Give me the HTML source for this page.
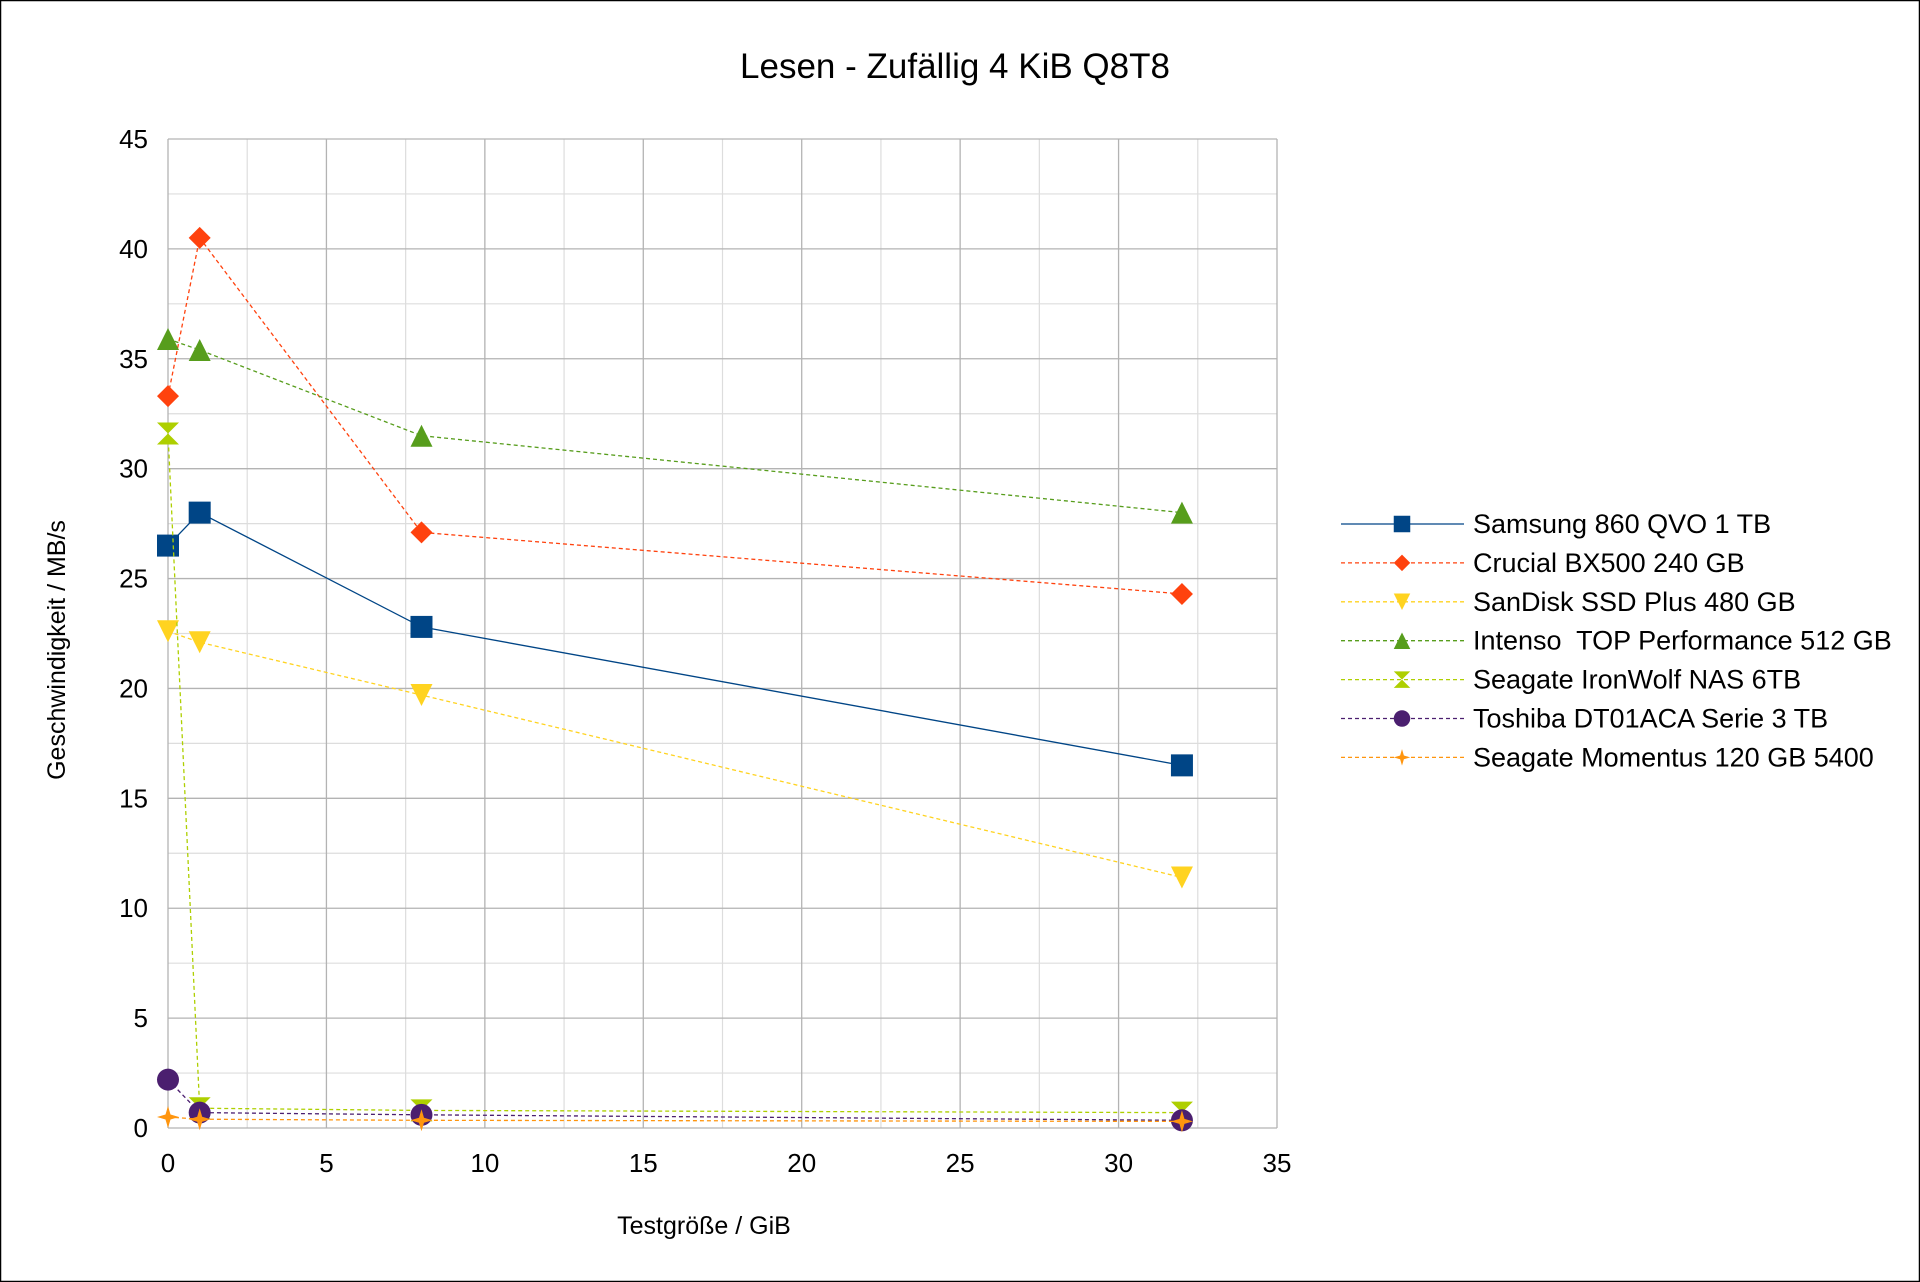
<!DOCTYPE html>
<html><head><meta charset="utf-8"><style>
html,body{margin:0;padding:0;background:#fff}
svg{display:block;font-family:"Liberation Sans",sans-serif}
</style></head><body>
<svg id="chart" width="1920" height="1282" viewBox="0 0 1920 1282" xmlns="http://www.w3.org/2000/svg">
<rect x="0.5" y="0.5" width="1919" height="1281" fill="#fff" stroke="#000" stroke-width="1.5"/>
<text x="955" y="78" font-size="35" text-anchor="middle" fill="#000">Lesen - Zufällig 4 KiB Q8T8</text>
<g id="grid"></g>
<g id="axes"></g>
<g id="series"></g>
<g id="legend"></g>
<text transform="translate(65,650) rotate(-90)" font-size="25" text-anchor="middle" fill="#000">Geschwindigkeit / MB/s</text>
<text x="704" y="1234" font-size="25" text-anchor="middle" fill="#000">Testgröße / GiB</text>
</svg>
<script>
const xValues = [0, 1, 8, 32];
const seriesNames = ["Samsung 860 QVO 1 TB","Crucial BX500 240 GB","SanDisk SSD Plus 480 GB","Intenso  TOP Performance 512 GB","Seagate IronWolf NAS 6TB","Toshiba DT01ACA Serie 3 TB","Seagate Momentus 120 GB 5400"];
const samsung = [26.5, 28, 22.8, 16.5];
const crucial = [33.3, 40.5, 27.1, 24.3];
const sandisk = [22.6, 22.1, 19.7, 11.4];
const intenso = [35.9, 35.4, 31.5, 28];
const ironwolf = [31.6, 0.9, 0.8, 0.7];
const toshiba = [2.2, 0.7, 0.6, 0.35];
const momentus = [0.5, 0.4, 0.35, 0.3];
const xTicks = [0,5,10,15,20,25,30,35];
const yTicks = [0,5,10,15,20,25,30,35,40,45];

const NS="http://www.w3.org/2000/svg";
const L=168,R=1277,T=139,B=1128;
const xS=v=>L+(v/35)*(R-L);
const yS=v=>B-(v/45)*(B-T);
function mk(tag,attrs,parent){const e=document.createElementNS(NS,tag);for(const k in attrs)e.setAttribute(k,attrs[k]);parent.appendChild(e);return e;}
const grid=document.getElementById('grid'),axes=document.getElementById('axes'),ser=document.getElementById('series'),leg=document.getElementById('legend');
for(let v=2.5;v<45;v+=5){const l=mk('line',{x1:L,x2:R,y1:yS(v),y2:yS(v),stroke:'#dddddd','stroke-width':1.2},grid);

}
for(let v=2.5;v<35;v+=5){const l=mk('line',{x1:xS(v),x2:xS(v),y1:T,y2:B,stroke:'#dddddd','stroke-width':1.2},grid);

}
yTicks.forEach(v=>{const l=mk('line',{x1:L,x2:R,y1:yS(v),y2:yS(v),stroke:'#b3b3b3','stroke-width':1.3},grid);


const t=mk('text',{x:L-20,y:yS(v)+9,'font-size':26,'text-anchor':'end',fill:'#000'},axes);t.textContent=v;

});
xTicks.forEach(v=>{const l=mk('line',{x1:xS(v),x2:xS(v),y1:T,y2:B,stroke:'#b3b3b3','stroke-width':1.3},grid);


const t=mk('text',{x:xS(v),y:B+44,'font-size':26,'text-anchor':'middle',fill:'#000'},axes);t.textContent=v;

});

function marker(type,x,y,c,p){
 const s=11;let e;
 if(type==='square')e=mk('rect',{x:x-s,y:y-s,width:2*s,height:2*s,fill:c},p);
 else if(type==='diamond')e=mk('polygon',{points:`${x},${y-s} ${x+s},${y} ${x},${y+s} ${x-s},${y}`,fill:c},p);
 else if(type==='down')e=mk('polygon',{points:`${x-s},${y-s} ${x+s},${y-s} ${x},${y+s}`,fill:c},p);
 else if(type==='up')e=mk('polygon',{points:`${x-s},${y+s} ${x+s},${y+s} ${x},${y-s}`,fill:c},p);
 else if(type==='hour')e=mk('polygon',{points:`${x-s},${y-s} ${x+s},${y-s} ${x-s},${y+s} ${x+s},${y+s}`,fill:c},p);
 else if(type==='circle')e=mk('circle',{cx:x,cy:y,r:s,fill:c},p);
 else e=mk('polygon',{points:`${x},${y-s} ${x+2.5},${y-2.5} ${x+s},${y} ${x+2.5},${y+2.5} ${x},${y+s} ${x-2.5},${y+2.5} ${x-s},${y} ${x-2.5},${y-2.5}`,fill:c},p);
 return e;
}
const defs=[
 {data:samsung,color:'#004586',m:'square',dash:''},
 {data:crucial,color:'#ff420e',m:'diamond',dash:'4,3'},
 {data:sandisk,color:'#ffd320',m:'down',dash:'4,3'},
 {data:intenso,color:'#579d1c',m:'up',dash:'4,3'},
 {data:ironwolf,color:'#aecf00',m:'hour',dash:'4,3'},
 {data:toshiba,color:'#4b1f6f',m:'circle',dash:'4,3'},
 {data:momentus,color:'#ff950e',m:'star',dash:'4,3'}
];
defs.forEach((d,i)=>{
 const g=mk('g',{},ser);
 
 
 const pts=xValues.map((x,j)=>xS(x)+','+yS(d.data[j])).join(' ');
 const pl=mk('polyline',{points:pts,fill:'none',stroke:d.color,'stroke-width':1.3,'stroke-dasharray':d.dash},g);
 
 
 xValues.forEach((x,j)=>{const m=marker(d.m,xS(x),yS(d.data[j]),d.color,g);
  
  });
 const ly=524+i*38.9;
 const lg=mk('g',{},leg);
 
 
 mk('line',{x1:1341,x2:1464,y1:ly,y2:ly,stroke:d.color,'stroke-width':1.3,'stroke-dasharray':d.dash},lg);
 marker(d.m,1402,ly,d.color,lg).setAttribute('transform',`translate(${1402*0.25},${ly*0.25}) scale(0.75)`);
 const t=mk('text',{x:1473,y:ly+9,'font-size':27,fill:'#000'},lg);
 t.style.whiteSpace='pre';
 t.textContent=seriesNames[i];
});
</script>
</body></html>
